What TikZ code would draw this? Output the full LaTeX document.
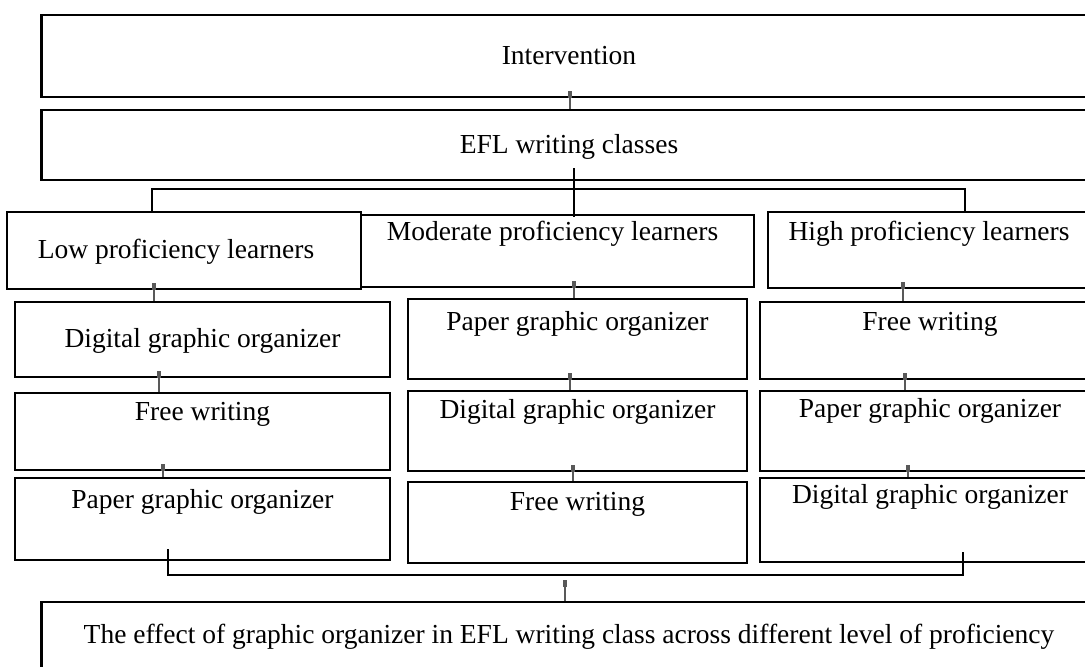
\documentclass[tikz,border=0pt]{standalone}
\usepackage{fontspec}
\setmainfont{Liberation Serif}
\usetikzlibrary{positioning,arrows.meta}

\tikzset{
  box/.style={draw, line width=2.2pt, rectangle, inner sep=0pt},
  lbl/.style={font=\fontsize{27.5pt}{33pt}\selectfont, inner sep=0pt},
  stub/.style={draw=gray!70!black, line width=1.4pt, arrows={Rectangle[length=7pt,width=4.5pt]-}, shorten <=-7pt},
  branch/.style={draw=black, line width=2.6pt},
}

\begin{document}
\begin{tikzpicture}[x=1pt, y=-1pt]
		\useasboundingbox (0,0) rectangle (1085,667);
		\clip (0,0) rectangle (1085,667);
		
		% top of the chart
		\node [box, minimum width=1055pt, minimum height=82pt] (interv) at (569,56) {};
		\node [lbl] at (interv) {Intervention};
		\node [box, minimum width=1055pt, minimum height=70pt] (efl) at (569,145) {};
		\node [lbl] at ([yshift=-2pt]efl.center) {EFL writing classes};
		
		% learner groups
		\node [box, minimum width=354pt, minimum height=77pt] (low) at (184,250.5) {};
		\node [lbl] at ([xshift=-8pt,yshift=-41pt]low.north) {Low proficiency learners};
		\node [box, minimum width=393pt, minimum height=72pt] (mod) at (557.5,251) {};
		\node [lbl] at ([xshift=-5pt,yshift=-20pt]mod.north) {Moderate proficiency learners};
		\node [box, minimum width=322pt, minimum height=76pt] (high) at (929,250) {};
		\node [lbl] at ([yshift=-23pt]high.north) {High proficiency learners};
		
		% first step
		\node [box, minimum width=375pt, minimum height=75pt] (dgoL) at (202.5,339.5) {};
		\node [lbl] at ([yshift=-40pt]dgoL.north) {Digital graphic organizer};
		\node [box, minimum width=339pt, minimum height=80pt] (pgoM) at (577.5,339) {};
		\node [lbl] at ([yshift=-26pt]pgoM.north) {Paper graphic organizer};
		\node [box, minimum width=340pt, minimum height=77pt] (fwR) at (930,340.5) {};
		\node [lbl] at ([yshift=-23pt]fwR.north) {Free writing};
		
		% second step
		\node [box, minimum width=375pt, minimum height=77pt] (fwL) at (202.5,431.5) {};
		\node [lbl] at ([yshift=-22pt]fwL.north) {Free writing};
		\node [box, minimum width=339pt, minimum height=80pt] (dgoM) at (577.5,431) {};
		\node [lbl] at ([yshift=-22pt]dgoM.north) {Digital graphic organizer};
		\node [box, minimum width=340pt, minimum height=80pt] (pgoR) at (930,431) {};
		\node [lbl] at ([yshift=-21pt]pgoR.north) {Paper graphic organizer};
		
		% third step
		\node [box, minimum width=375pt, minimum height=82pt] (pgoL) at (202.5,519) {};
		\node [lbl] at ([yshift=-25pt]pgoL.north) {Paper graphic organizer};
		\node [box, minimum width=339pt, minimum height=81pt] (fwM) at (577.5,522.5) {};
		\node [lbl] at ([yshift=-23pt]fwM.north) {Free writing};
		\node [box, minimum width=340pt, minimum height=84pt] (dgoR) at (930,520) {};
		\node [lbl] at ([yshift=-20pt]dgoR.north) {Digital graphic organizer};
		
		% outcome
		\node [box, minimum width=1055pt, minimum height=110pt] (effect) at (569,657) {};
		\node [lbl] at ([yshift=-36pt]effect.north) {The effect of graphic organizer in EFL writing class across different level of proficiency};
		
		% columns for the connectors
		\coordinate (bar) at (0,189);
		\coordinate (bbar) at (0,575);
		\coordinate (bl) at (152,0);
		\coordinate (bm) at (574,0);
		\coordinate (br) at (965,0);
		\coordinate (cl) at (168,0);
		\coordinate (cr) at (963,0);
		
		\draw[branch, shorten <=-13pt, shorten >=-3pt]
		(efl.south -| bm) -- (mod.north -| bm);
		\draw[branch]
		(low.north -| bl) -- (bar -| bl) -- (bar -| br) -- (high.north -| br);
		\draw[branch, shorten <=-12pt, shorten >=-11pt]
		(pgoL.south -| cl) -- (bbar -| cl) -- (bbar -| cr) -- (dgoR.south -| cr);
		
		\draw[stub]
		(interv.south -| 570,0) -- (efl.north -| 570,0);
		\draw[stub]
		(low.south -| 154,0) -- (dgoL.north -| 154,0);
		\draw[stub]
		(mod.south -| 574,0) -- (pgoM.north -| 574,0);
		\draw[stub]
		(high.south -| 903,0) -- (fwR.north -| 903,0);
		\draw[stub]
		(dgoL.south -| 159,0) -- (fwL.north -| 159,0);
		\draw[stub]
		(pgoM.south -| 570,0) -- (dgoM.north -| 570,0);
		\draw[stub]
		(fwR.south -| 905,0) -- (pgoR.north -| 905,0);
		\draw[stub]
		(fwL.south -| 163,0) -- (pgoL.north -| 163,0);
		\draw[stub]
		(dgoM.south -| 573,0) -- (fwM.north -| 573,0);
		\draw[stub]
		(pgoR.south -| 908,0) -- (dgoR.north -| 908,0);
		\draw[stub, shorten <=5pt]
		(bbar -| 565,0) -- (effect.north -| 565,0);
		
\end{tikzpicture}
\end{document}
